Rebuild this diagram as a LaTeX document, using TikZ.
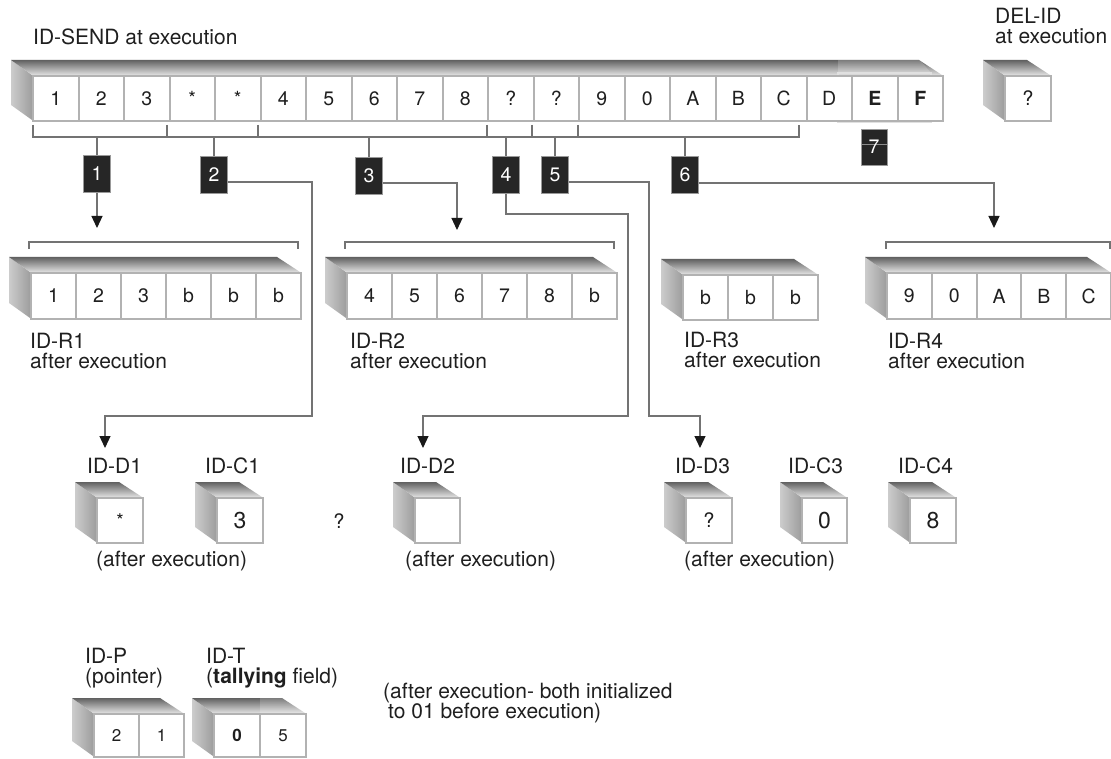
\documentclass[tikz,border=0pt]{standalone}
\usepackage{fontspec}
\setmainfont{TeX Gyre Heros}
\usetikzlibrary{arrows.meta}
\newcommand\fsz[1]{\fontsize{#1}{#1}\selectfont}
\newcommand\lblfont{\fontsize{21}{20}\selectfont}
\newcommand\shellbox[4]{%
  \shade[left color=black!20, middle color=black!58, right color=black!38]
    (#1-21,#2-15) -- (#1,#2) -- (#1,#4) -- (#1-21,#4-15) -- cycle;
  \shade[top color=black!62, bottom color=black!12]
    (#1-21,#2-15) -- (#3-23,#2-15) -- (#3,#2) -- (#1,#2) -- cycle;
}
\newcommand\cellrow[7][]{%
  \foreach \t [count=\i from 0] in {#7}{%
    \node[cell, minimum width=#5pt, minimum height=#6pt, #1] (#2-\i) at ({#3+\i*#5},#4) {\t};
  }%
}
\begin{document}
\begin{tikzpicture}[x=1pt,y=-1pt,
  cell/.style={draw=black!30, line width=2pt, fill=white, inner sep=0pt, anchor=north west, font=\fsz{19.5}, text=black!88},
  num/.style={fill=black!85, draw=black!40, line width=0.8pt, text=white, minimum width=27pt, minimum height=37pt, inner sep=0pt, font=\fsz{19.5}},
  numseven/.style={num, minimum width=26pt, minimum height=36pt,
     path picture={\draw[black!45, line width=0.8pt] ([yshift=3pt]path picture bounding box.west) -- ([yshift=3pt]path picture bounding box.east);}},
  lbl/.style={inner sep=0pt, font=\lblfont, align=left, text=black!88},
  conn/.style={draw=black!55, line width=1.2pt},
  arr/.style={conn, -{Triangle[width=11pt,length=12pt,color=black!90]}},
  brk/.style={draw=black!55, line width=1.3pt}]
\fill[white] (0,0) rectangle (1111,759);
\useasboundingbox (0,0) rectangle (1111,759);

% ---------- ID-SEND ----------
\shellbox{32}{75}{942}{120}
\fill[white, opacity=0.18] (838,60) -- (920,60) -- (931,73) -- (838,73) -- cycle;
\draw[black!12, line width=1.2pt] (838,73) rectangle (931,122);
\cellrow{send}{32}{75}{45.5}{45}{1,2,3,*,*,4,5,6,7,8,?,?,9,0,A,B,C,D,\textbf{E},\textbf{F}}
\node[lbl, anchor=base west] (lsend) at (33,45) {ID-SEND at execution};

% ---------- DEL-ID ----------
\shellbox{1004}{75}{1050}{120}
\cellrow[font=\fsz{20}]{del}{1004}{75}{46}{45}{?}
\node[lbl, anchor=north west] (ldel) at (995,8) {DEL-ID\\at execution};

% ---------- bracket under ID-SEND ----------
\draw[brk] (33,125) -- (33,137) -- (799,137) -- (799,125);
\foreach \x in {167,258,487,532,578} \draw[brk] (\x,125) -- (\x,137);
\foreach \n/\x in {1/97,2/214,3/369,4/506,5/555,6/685}
  \coordinate (s\n) at (\x,137);

% ---------- numbered boxes ----------
\node[num] (b1) at (97,174) {1};
\node[num] (b2) at (214,175) {2};
\node[num] (b3) at (369,176) {3};
\node[num] (b4) at (506,175) {4};
\node[num] (b5) at (555,175) {5};
\node[num] (b6) at (685,175) {6};
\node[numseven] (b7) at (874,147) {\raisebox{-3pt}{7}};
\foreach \n in {1,...,6} \draw[conn] (s\n) -- (b\n.north);

% ---------- receiving registers ----------
\shellbox{30}{272}{300}{318}
\cellrow{rone}{30}{272}{45}{46}{1,2,3,b,b,b}
\node[lbl, anchor=north west] (lrone) at (30,333) {ID-R1\\after execution};
\draw[brk] (29,249) -- (29,242) -- (298,242) -- (298,249);

\shellbox{346}{272}{616}{318}
\cellrow{rtwo}{346}{272}{45}{46}{4,5,6,7,8,b}
\node[lbl, anchor=north west] (lrtwo) at (350,333) {ID-R2\\after execution};
\draw[brk] (345,249) -- (345,242) -- (614,242) -- (614,249);

\shellbox{682}{274}{817}{319}
\cellrow{rthree}{682}{274}{45}{45}{b,b,b}
\node[lbl, anchor=north west] (lrthree) at (684,332) {ID-R3\\after execution};

\shellbox{886}{272}{1110}{318}
\cellrow{rfour}{886}{272}{44.8}{46}{9,0,A,B,C}
\node[lbl, anchor=north west] (lrfour) at (888,333) {ID-R4\\after execution};
\draw[brk] (886,249) -- (886,242) -- (1110,242) -- (1110,249);

% ---------- delimiter / count fields ----------
\shellbox{96}{497}{142}{542}
\cellrow[font=\fsz{19}]{done}{96}{497}{46}{45}{*}
\shellbox{216}{497}{262}{542}
\cellrow[font=\fsz{23}]{cone}{216}{497}{46}{45}{3}
\shellbox{414}{497}{459}{542}
\node[cell, minimum width=45pt, minimum height=45pt] (dtwo) at (414,497) {};
\shellbox{685}{497}{731}{542}
\cellrow[font=\fsz{20}]{dthree}{685}{497}{46}{45}{?}
\shellbox{801}{497}{846}{542}
\cellrow[font=\fsz{23}]{cthree}{801}{497}{45}{45}{0}
\shellbox{909}{497}{955}{542}
\cellrow[font=\fsz{23}]{cfour}{909}{497}{46}{45}{8}

\node[lbl, anchor=base west] (ldone) at (87,473) {ID-D1};
\node[lbl, anchor=base west] (lcone) at (205,473) {ID-C1};
\node[lbl, anchor=base west] (ldtwo) at (400,473) {ID-D2};
\node[lbl, anchor=base west] (ldthree) at (675,473) {ID-D3};
\node[lbl, anchor=base west] (lcthree) at (788,473) {ID-C3};
\node[lbl, anchor=base west] (lcfour) at (898,473) {ID-C4};
\node[lbl, font=\fsz{20}] (qmark) at (339,521) {?};
\node[lbl, anchor=base west] (aeone) at (96,566) {(after execution)};
\node[lbl, anchor=base west] (aetwo) at (405,566) {(after execution)};
\node[lbl, anchor=base west] (aethree) at (684,566) {(after execution)};

% ---------- pointer / tallying ----------
\shellbox{93}{713}{183}{756}
\cellrow[font=\fsz{17}]{idp}{93}{713}{45}{43}{2,1}
\shellbox{213}{713}{305}{756}
\fill[white, opacity=0.18] (260,697) -- (282,697) -- (305,713) -- (260,713) -- cycle;
\cellrow[font=\fsz{17}]{idt}{213}{713}{46}{43}{\textbf{0},5}
\node[lbl, anchor=north west] (lidp) at (85,648) {ID-P\\(pointer)};
\node[lbl, anchor=north west] (lidt) at (206,648) {ID-T\\(\textbf{tallying} field)};
\node[lbl, anchor=north west] (lnote) at (383,683) {(after execution- both initialized\\\hspace*{5pt}to 01 before execution)};

% ---------- connectors ----------
\coordinate (t1) at (97,228);
\coordinate (t2) at (105,448);
\coordinate (t3) at (457,230);
\coordinate (t4) at (423,448);
\coordinate (t5) at (700,448);
\coordinate (t6) at (994,228);
\draw[arr] (b1) -- (t1);
\draw[arr] ([yshift=-7pt]b2.east) -| (312,416) -| (t2);
\draw[arr] ([yshift=-7pt]b3.east) -| (t3);
\draw[arr] (b4.south) |- (628,214) |- (423,416) -- (t4);
\draw[arr] ([yshift=-7pt]b5.east) -| (649,416) -| (t5);
\draw[arr] ([yshift=-8pt]b6.east) -| (t6);
\end{tikzpicture}
\end{document}
